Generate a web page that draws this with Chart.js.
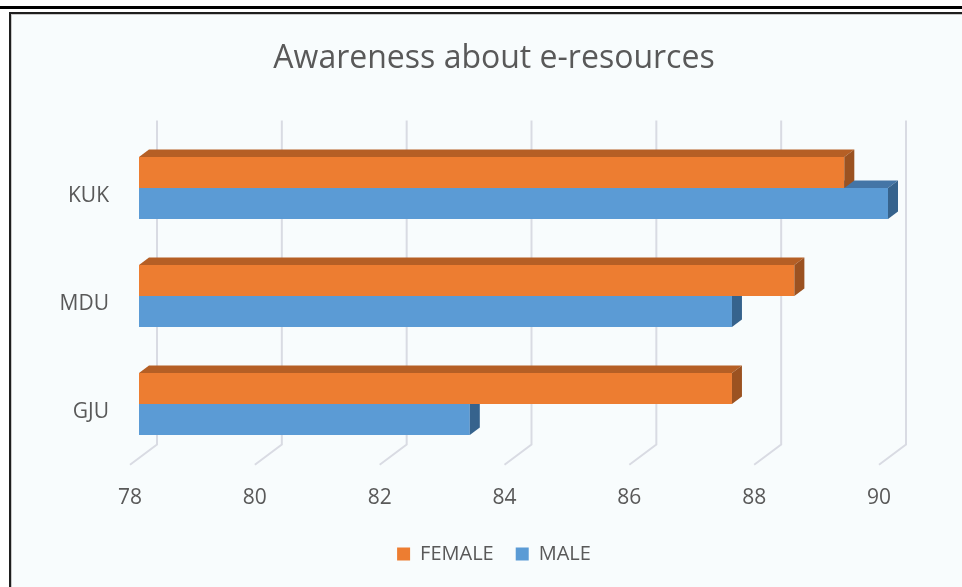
<!DOCTYPE html>
<html><head><meta charset="utf-8">
<script src="https://cdn.jsdelivr.net/npm/chart.js@4"></script>
<style>
html,body{margin:0;padding:0;background:#fff;width:962px;height:587px;overflow:hidden;}
#topline{position:absolute;left:0;top:6px;width:962px;height:3px;background:#000;}
#frame{position:absolute;left:9px;top:12px;width:980px;height:600px;border-left:2px solid #1e1e1e;border-top:2px solid #1e1e1e;background:#f8fcfd;box-shadow:inset 1px 1px 0 #c8c8c8;}
canvas{position:absolute;left:0;top:0;}
</style></head><body>
<div id="topline"></div><div id="frame"></div>
<canvas id="c" width="962" height="587"></canvas>
<script>
const categories = ['KUK', 'MDU', 'GJU'];
const seriesNames = ['FEMALE', 'MALE'];
const femaleValues = [89.3, 88.5, 87.5];
const maleValues = [90, 87.5, 83.3];
const axisMin = 78;
const axisMax = 90;
const axisStep = 2;
const chartTitle = 'Awareness about e-resources';

const FONT = "'Open Sans', 'Noto Sans', sans-serif";
const TEXT = '#595959';

// 3D look: back wall, floor front edge, bar depth
const depthPlugin = {
  id: 'depth3d',
  beforeDatasetsDraw(chart) {
    const {ctx, chartArea: {top, bottom}, scales: {x}} = chart;
    ctx.save();
    ctx.strokeStyle = '#d9dbe3';
    ctx.lineWidth = 2;
    x.ticks.forEach(t => {
      const px = x.getPixelForValue(t.value);
      ctx.beginPath();
      ctx.moveTo(px + 18, top - 13.5);
      ctx.lineTo(px + 18, bottom - 13.5);
      ctx.lineTo(px - 9, bottom + 6.75);
      ctx.stroke();
    });
    ctx.restore();
  },
  afterDatasetDraw(chart, args) {
    const ctx = chart.ctx;
    const ds = chart.data.datasets[args.index];
    const left = chart.chartArea.left;
    const dx = 10, dy = 7.5;
    ctx.save();
    args.meta.data.forEach(el => {
      const p = el.getProps(['x', 'y', 'base', 'height'], true);
      const x = p.x, base = Math.max(p.base, left);
      const t = p.y - p.height / 2, b = p.y + p.height / 2;
      ctx.fillStyle = ds.topColor;
      ctx.beginPath();
      ctx.moveTo(base, t); ctx.lineTo(base + dx, t - dy); ctx.lineTo(x + dx, t - dy); ctx.lineTo(x, t);
      ctx.closePath(); ctx.fill();
      ctx.fillStyle = ds.sideColor;
      ctx.beginPath();
      ctx.moveTo(x, t); ctx.lineTo(x + dx, t - dy); ctx.lineTo(x + dx, b - dy); ctx.lineTo(x, b);
      ctx.closePath(); ctx.fill();
    });
    ctx.restore();
  }
};

new Chart(document.getElementById('c'), {
  type: 'bar',
  data: {
    labels: categories,
    datasets: [
      {label: seriesNames[0], data: femaleValues, base: axisMin, backgroundColor: '#ed7d31', topColor: '#b55f25', sideColor: '#9b5221'},
      {label: seriesNames[1], data: maleValues, base: axisMin, backgroundColor: '#5b9bd5', topColor: '#4475a6', sideColor: '#36638d'}
    ]
  },
  options: {
    indexAxis: 'y',
    responsive: false,
    animation: false,
    devicePixelRatio: 1,
    categoryPercentage: 0.574,
    barPercentage: 1,
    layout: {padding: {left: 30, right: 4, top: 12, bottom: 13}},
    scales: {
      x: {
        min: axisMin, max: axisMax,
        grid: {display: false, drawTicks: false},
        border: {display: false},
        ticks: {stepSize: axisStep, padding: 27, labelOffset: -9, color: TEXT, font: {family: FONT, size: 21}},
        afterFit(s) { s.height = 64; }
      },
      y: {
        grid: {display: false, drawTicks: false},
        border: {display: false},
        ticks: {padding: 30, labelOffset: 8, color: TEXT, font: {family: FONT, size: 21}},
        afterFit(s) { s.width = 109; }
      },
      yRight: {
        type: 'category',
        position: 'right',
        grid: {display: false, drawTicks: false},
        border: {display: false},
        ticks: {display: false},
        afterFit(s) { s.width = 70; }
      }
    },
    plugins: {
      title: {display: true, text: chartTitle, color: TEXT, font: {family: FONT, size: 32, weight: 'normal'}, padding: {top: 28, bottom: 55.6}},
      legend: {position: 'bottom', labels: {boxWidth: 13, boxHeight: 13, padding: 22, color: TEXT, font: {family: FONT, size: 20}}},
      tooltip: {enabled: false}
    }
  },
  plugins: [depthPlugin]
});
</script>
</body></html>
